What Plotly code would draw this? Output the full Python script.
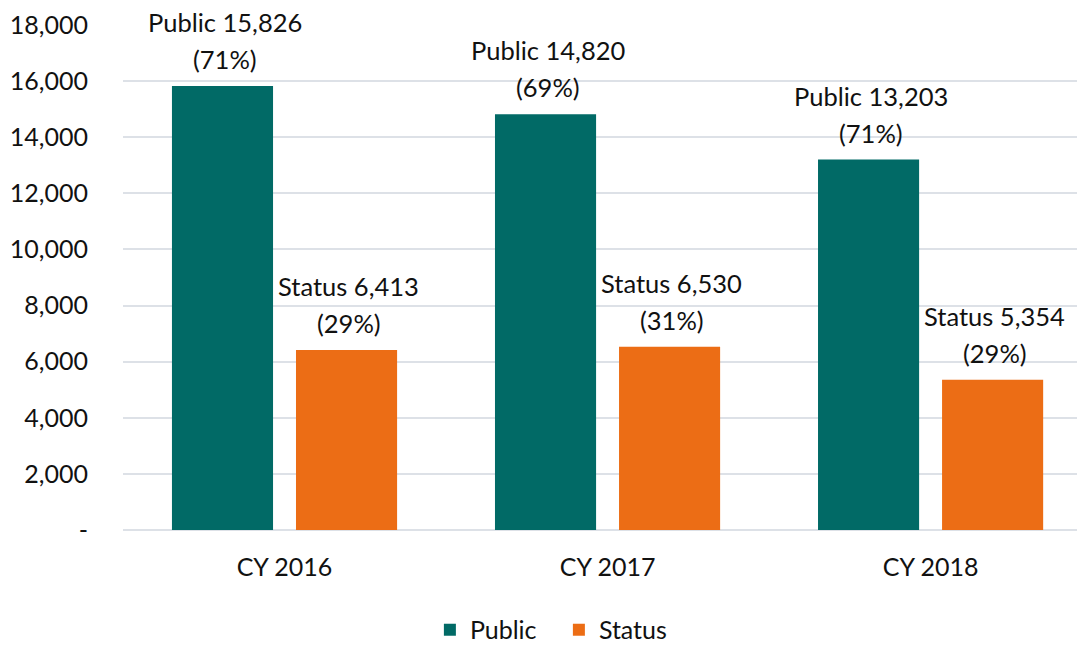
import plotly.graph_objects as go

categories = ["CY 2016", "CY 2017", "CY 2018"]
public_vals = [15826, 14820, 13203]
public_pct = ["71%", "69%", "71%"]
status_vals = [6413, 6530, 5354]
status_pct = ["29%", "31%", "29%"]
y_tickvals = [0, 2000, 4000, 6000, 8000, 10000, 12000, 14000, 16000, 18000]
y_ticktext = ["-", "2,000", "4,000", "6,000", "8,000", "10,000", "12,000", "14,000", "16,000", "18,000"]

FONT = "Lato, 'Open Sans', sans-serif"
FS = 25
LFS = 25.5

fig = go.Figure()
fig.add_trace(go.Bar(
    x=categories, y=public_vals, name="Public",
    marker=dict(color="#016a66", line=dict(width=0)),
))
fig.add_trace(go.Bar(
    x=categories, y=status_vals, name="Status",
    marker=dict(color="#ec6d15", line=dict(width=0)),
))

annotations = []
for i, cat in enumerate(categories):
    for name, vals, pcts, xs in (("Public", public_vals, public_pct, -62),
                                 ("Status", status_vals, status_pct, 62)):
        annotations.append(dict(
            x=cat, y=vals[i], xref="x", yref="y",
            text=f"{name} {vals[i]:,}",
            showarrow=False, xanchor="center", yanchor="middle",
            xshift=xs + 2, yshift=64, font=dict(size=LFS, family=FONT, color="#111111"),
        ))
        annotations.append(dict(
            x=cat, y=vals[i], xref="x", yref="y",
            text=f"({pcts[i]})",
            showarrow=False, xanchor="center", yanchor="middle",
            xshift=xs + 2, yshift=27, font=dict(size=LFS, family=FONT, color="#111111"),
        ))

fig.update_layout(
    width=1077, height=637,
    margin=dict(l=115, r=0, t=17, b=115, autoexpand=False),
    paper_bgcolor="white", plot_bgcolor="white",
    font=dict(family=FONT, size=FS, color="#111111"),
    barmode="group", bargap=0.232, bargroupgap=0.185,
    showlegend=True,
    legend=dict(orientation="h", xref="container", x=0.5115, xanchor="center",
                y=-0.198, yanchor="middle", entrywidth=84, entrywidthmode="pixels",
                font=dict(size=FS, family=FONT), itemwidth=30, traceorder="normal"),
    xaxis=dict(range=[-0.5, 2.478], showgrid=False, showline=False, ticks="",
               automargin=False, tickfont=dict(size=FS, family=FONT), ticklabelstandoff=20),
    yaxis=dict(range=[0, 18000], tickvals=y_tickvals, ticktext=y_ticktext,
               showgrid=True, gridcolor="#dde1e7", gridwidth=2, zeroline=True,
               zerolinecolor="#dde1e7", zerolinewidth=2, showline=False, ticks="",
               automargin=False, tickfont=dict(size=FS, family=FONT), ticklabelstandoff=34),
    annotations=annotations,
)

fig.write_html("out.html")
